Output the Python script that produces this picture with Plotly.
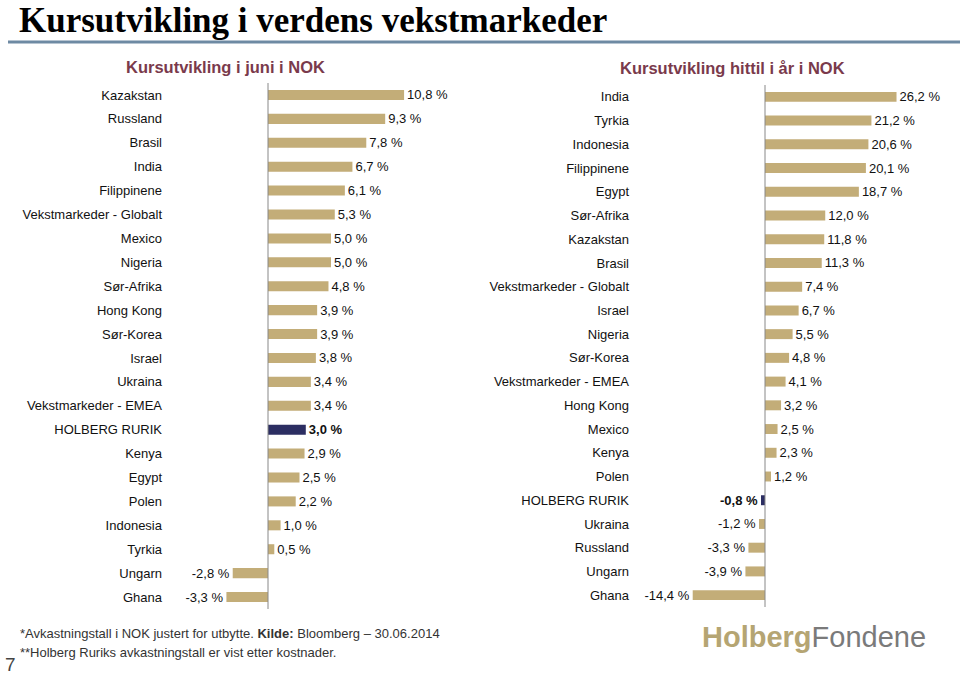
import plotly.graph_objects as go

W, H = 960, 674

left_cats = ["Kazakstan", "Russland", "Brasil", "India", "Filippinene", "Vekstmarkeder - Globalt",
             "Mexico", "Nigeria", "Sør-Afrika", "Hong Kong", "Sør-Korea", "Israel", "Ukraina",
             "Vekstmarkeder - EMEA", "HOLBERG RURIK", "Kenya", "Egypt", "Polen", "Indonesia",
             "Tyrkia", "Ungarn", "Ghana"]
left_vals = [10.8, 9.3, 7.8, 6.7, 6.1, 5.3, 5.0, 5.0, 4.8, 3.9, 3.9, 3.8, 3.4, 3.4, 3.0,
             2.9, 2.5, 2.2, 1.0, 0.5, -2.8, -3.3]

right_cats = ["India", "Tyrkia", "Indonesia", "Filippinene", "Egypt", "Sør-Afrika", "Kazakstan",
              "Brasil", "Vekstmarkeder - Globalt", "Israel", "Nigeria", "Sør-Korea",
              "Vekstmarkeder - EMEA", "Hong Kong", "Mexico", "Kenya", "Polen", "HOLBERG RURIK",
              "Ukraina", "Russland", "Ungarn", "Ghana"]
right_vals = [26.2, 21.2, 20.6, 20.1, 18.7, 12.0, 11.8, 11.3, 7.4, 6.7, 5.5, 4.8, 4.1, 3.2,
              2.5, 2.3, 1.2, -0.8, -1.2, -3.3, -3.9, -14.4]

HIGHLIGHT = "HOLBERG RURIK"
TAN = "#C3AD78"
NAVY = "#2C2E62"
FONT = "Liberation Sans, Arial, sans-serif"


def fmt(v):
    return f"{v:.1f}".replace(".", ",") + " %"


def px_x(a, b):
    return [a / W, b / W]


def px_y(top, bottom):
    return [1 - bottom / H, 1 - top / H]


fig = go.Figure()

for cats, vals, ax in [(left_cats, left_vals, ""), (right_cats, right_vals, "2")]:
    colors = [NAVY if c == HIGHLIGHT else TAN for c in cats]
    texts = [f"<b>{fmt(v)}</b>" if c == HIGHLIGHT else fmt(v) for c, v in zip(cats, vals)]
    fig.add_trace(go.Bar(
        x=vals, y=cats, orientation="h",
        marker=dict(color=colors, line=dict(width=0)),
        text=texts, textposition="outside", constraintext="none", cliponaxis=False,
        textfont=dict(family=FONT, size=13, color="#111111"),
        width=0.42, xaxis="x" + ax, yaxis="y" + ax, showlegend=False,
        hoverinfo="skip",
    ))

# Left chart: zero at x=268, 12.6 px per unit
lx0, lx1, lzero, lscale = 163, 470, 268, 12.6
# Right chart: zero at x=765, 5.02 px per unit
rx0, rx1, rzero, rscale = 630, 958, 765, 5.02

fig.update_layout(
    width=W, height=H, margin=dict(l=0, r=0, t=0, b=0),
    paper_bgcolor="white", plot_bgcolor="white",
    font=dict(family=FONT, size=13, color="#111111"),
    xaxis=dict(domain=px_x(lx0, lx1), range=[-(lzero - lx0) / lscale, (lx1 - lzero) / lscale],
               visible=False, fixedrange=True),
    yaxis=dict(domain=px_y(83, 609), categoryorder="array", categoryarray=left_cats,
               range=[21.5, -0.5], showline=False, showgrid=False, ticks="",
               tickfont=dict(family=FONT, size=13, color="#111111"), anchor="x", fixedrange=True),
    xaxis2=dict(domain=px_x(rx0, rx1), range=[-(rzero - rx0) / rscale, (rx1 - rzero) / rscale],
                visible=False, fixedrange=True, anchor="y2"),
    yaxis2=dict(domain=px_y(85, 607), categoryorder="array", categoryarray=right_cats,
                range=[21.5, -0.5], showline=False, showgrid=False, ticks="",
                tickfont=dict(family=FONT, size=13, color="#111111"), anchor="x2", fixedrange=True),
    bargap=0.58,
)

# zero axis lines
fig.add_shape(type="line", xref="x", yref="y domain", x0=0, x1=0, y0=0, y1=1,
              line=dict(color="#888888", width=1))
fig.add_shape(type="line", xref="x2", yref="y2 domain", x0=0, x1=0, y0=0, y1=1,
              line=dict(color="#888888", width=1))

# title rule
fig.add_shape(type="line", xref="paper", yref="paper", x0=8 / W, x1=1, y0=1 - 42 / H, y1=1 - 42 / H,
              line=dict(color="#6E8AA3", width=3))

ann = []
ann.append(dict(text="<b>Kursutvikling i verdens vekstmarkeder</b>", x=18 / W, y=1,
                xanchor="left", yanchor="top", borderpad=0,
                font=dict(family="Liberation Serif, Times New Roman, serif", size=35, color="#000000")))
ann.append(dict(text="<b>Kursutvikling i juni i NOK</b>", x=225 / W, y=1 - 67 / H, xanchor="center",
                yanchor="middle", font=dict(family=FONT, size=16.5, color="#7A3A4C")))
ann.append(dict(text="<b>Kursutvikling hittil i år i NOK</b>", x=732 / W, y=1 - 68 / H, xanchor="center",
                yanchor="middle", font=dict(family=FONT, size=16.5, color="#7A3A4C")))
ann.append(dict(text="*Avkastningstall i NOK justert for utbytte. <b>Kilde:</b> Bloomberg – 30.06.2014",
                x=18 / W, y=1 - 633 / H, xanchor="left", yanchor="middle",
                font=dict(family=FONT, size=13, color="#333333")))
ann.append(dict(text="**Holberg Ruriks avkastningstall er vist etter kostnader.",
                x=18 / W, y=1 - 652 / H, xanchor="left", yanchor="middle",
                font=dict(family=FONT, size=13, color="#333333")))
ann.append(dict(text="7", x=3 / W, y=1 - 664 / H, xanchor="left", yanchor="middle",
                font=dict(family=FONT, size=19, color="#444444")))
ann.append(dict(text="<b><span style='color:#B5A573'>Holberg</span></b><span style='color:#7A7A7A'>Fondene</span>",
                x=700 / W, y=1 - 637 / H, xanchor="left", yanchor="middle",
                font=dict(family=FONT, size=29)))

for a in ann:
    a.update(xref="paper", yref="paper", showarrow=False)
fig.update_layout(annotations=ann)

fig.write_html("out.html", config={"displayModeBar": False, "staticPlot": True},
               post_script="document.body.style.margin='0';document.body.style.overflow='hidden';")
